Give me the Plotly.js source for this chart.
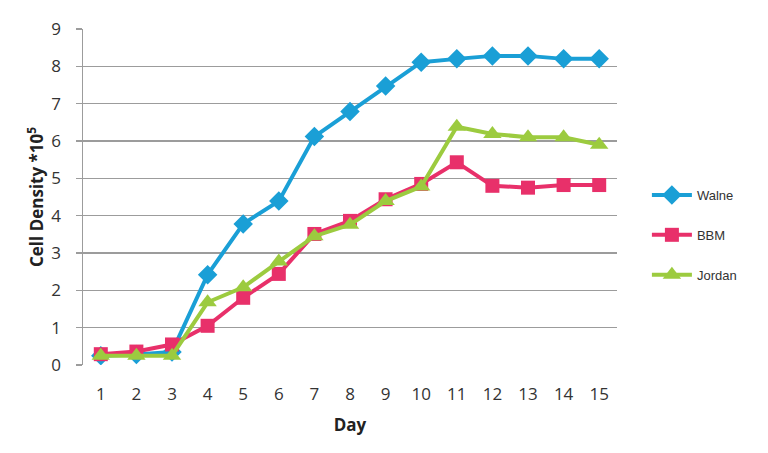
<!DOCTYPE html>
<html>
<head>
<meta charset="utf-8">
<script src="https://cdn.plot.ly/plotly-3.0.1.min.js"></script>
<style>html,body{margin:0;padding:0;background:#fff}#chart{width:768px;height:453px}</style>
</head>
<body>
<div id="chart"></div>
<script>
const days = [1,2,3,4,5,6,7,8,9,10,11,12,13,14,15];
const walne = [0.25,0.28,0.35,2.42,3.78,4.39,6.12,6.79,7.47,8.11,8.2,8.28,8.28,8.2,8.2];
const bbm = [0.29,0.36,0.55,1.05,1.8,2.44,3.51,3.86,4.44,4.85,5.43,4.8,4.75,4.82,4.82];
const jordan = [0.25,0.25,0.25,1.68,2.08,2.77,3.45,3.76,4.39,4.78,6.38,6.19,6.1,6.1,5.9];
const seriesNames = ['Walne','BBM','Jordan'];
const yTicks = [0,1,2,3,4,5,6,7,8,9];

const colors = ['#1a9fd6','#e8306a','#9ccb3f'];
const symbols = ['diamond','square','triangle-up'];
const sizes = [15,14,16];
const data = [walne,bbm,jordan].map((vals,i)=>({
  x: days, y: vals, name: seriesNames[i], type:'scatter', mode:'lines+markers',
  legendgroup: 'g'+i,
  line:{color:colors[i], width:4},
  marker:{symbol:symbols[i], size:sizes[i], color:colors[i]}
}));

const layout = {
  width:768, height:453,
  margin:{l:83, r:151, t:29, b:88},
  paper_bgcolor:'#fff', plot_bgcolor:'#fff',
  font:{family:'Open Sans, sans-serif', color:'#333'},
  xaxis:{
    range:[0.5,15.5], tickvals:days, ticktext:days.map(String),
    showgrid:false, zeroline:false, showline:false,
    ticks:'outside', ticklen:14, tickcolor:'rgba(0,0,0,0)',
    tickfont:{size:17, color:'#333'},
    title:{text:'<b>Day</b>', font:{size:17, color:'#222'}, standoff:14}
  },
  yaxis:{
    range:[0,9], tickvals:yTicks, ticktext:yTicks.map(String),
    showgrid:true, gridcolor:'#9c9c9c', gridwidth:1.5,
    zeroline:false, showline:true, linecolor:'#9c9c9c', linewidth:1.5,
    ticks:'outside', ticklen:6, tickcolor:'#9c9c9c', tickwidth:1.5,
    ticklabelstandoff:11,
    tickfont:{size:17, color:'#333'},
    title:{text:'<b>Cell Density *10<sup>5</sup></b>', font:{size:17, color:'#222'}, standoff:3}
  },
  showlegend:true,
  legend:{x:1.056, xanchor:'left', y:0.387, yanchor:'middle', tracegroupgap:20,
    font:{family:'Liberation Sans, Arial, sans-serif', size:13, color:'#333'}, itemwidth:40}
};
Plotly.newPlot('chart', data, layout, {displayModeBar:false, staticPlot:true});
</script>
</body>
</html>
